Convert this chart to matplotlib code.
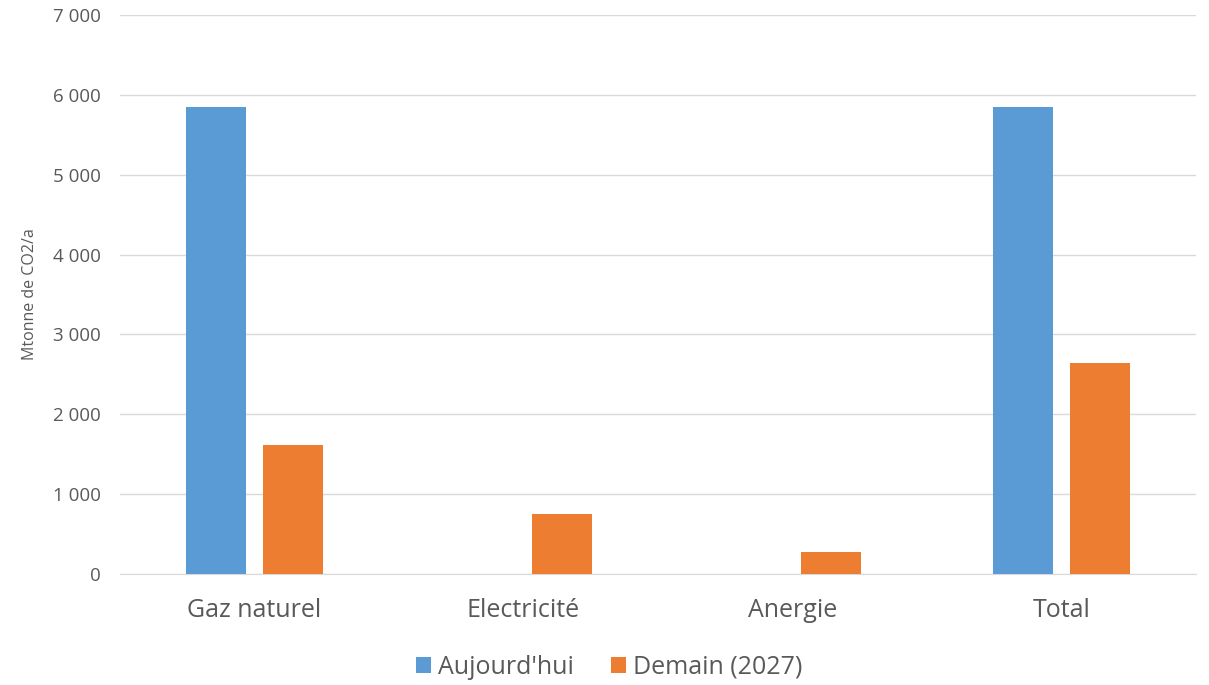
import matplotlib
matplotlib.use("Agg")
import matplotlib.pyplot as plt
import numpy as np
from matplotlib.ticker import FuncFormatter

categories = ["Gaz naturel", "Electricité", "Anergie", "Total"]
series_names = ["Aujourd'hui", "Demain (2027)"]
aujourdhui = [5850, 0, 0, 5850]
demain = [1615, 750, 275, 2640]
yticks = [0, 1000, 2000, 3000, 4000, 5000, 6000, 7000]

plt.rcParams['font.family'] = ['Open Sans', 'DejaVu Sans']
txt = '#595959'

fig = plt.figure(figsize=(12.09, 6.85), dpi=100)
ax = fig.add_axes([120/1209, 1-574/685, (1196-120)/1209, (574-15)/685])

x = np.arange(len(categories))
w = 0.223
off = (w + 0.06) / 2
ax.bar(x - off, aujourdhui, w, color='#5B9BD5', label=series_names[0], zorder=3)
ax.bar(x + off, demain, w, color='#ED7D31', label=series_names[1], zorder=3)

ax.set_xlim(-0.5, len(categories) - 0.5)
ax.set_ylim(0, 7000)
ax.set_yticks(yticks)
ax.yaxis.set_major_formatter(FuncFormatter(lambda v, p: f"{int(v):,}".replace(",", " ")))
ax.set_xticks(x)
ax.set_xticklabels(categories, fontsize=18, color=txt)
ax.tick_params(axis='y', length=0, labelsize=13.5, labelcolor=txt, pad=14)
ax.tick_params(axis='x', length=0, pad=17)
ax.grid(axis='y', color='#D9D9D9', linewidth=1, zorder=0)
for s in ['top', 'right', 'left']:
    ax.spines[s].set_visible(False)
ax.spines['bottom'].set_color('#D9D9D9')
ax.set_ylabel("Mtonne de CO2/a", fontsize=11.5, color=txt)
ax.yaxis.set_label_coords(-(120-38)/1076, 0.5)

leg = fig.legend(*ax.get_legend_handles_labels(), loc='center',
                 bbox_to_anchor=(609/1209, 1-667/685), ncol=2, frameon=False,
                 fontsize=18, handlelength=0.6, handleheight=0.6, handletextpad=0.28,
                 columnspacing=1.5)
for t in leg.get_texts():
    t.set_color(txt)

fig.savefig("out.png", dpi=100)
